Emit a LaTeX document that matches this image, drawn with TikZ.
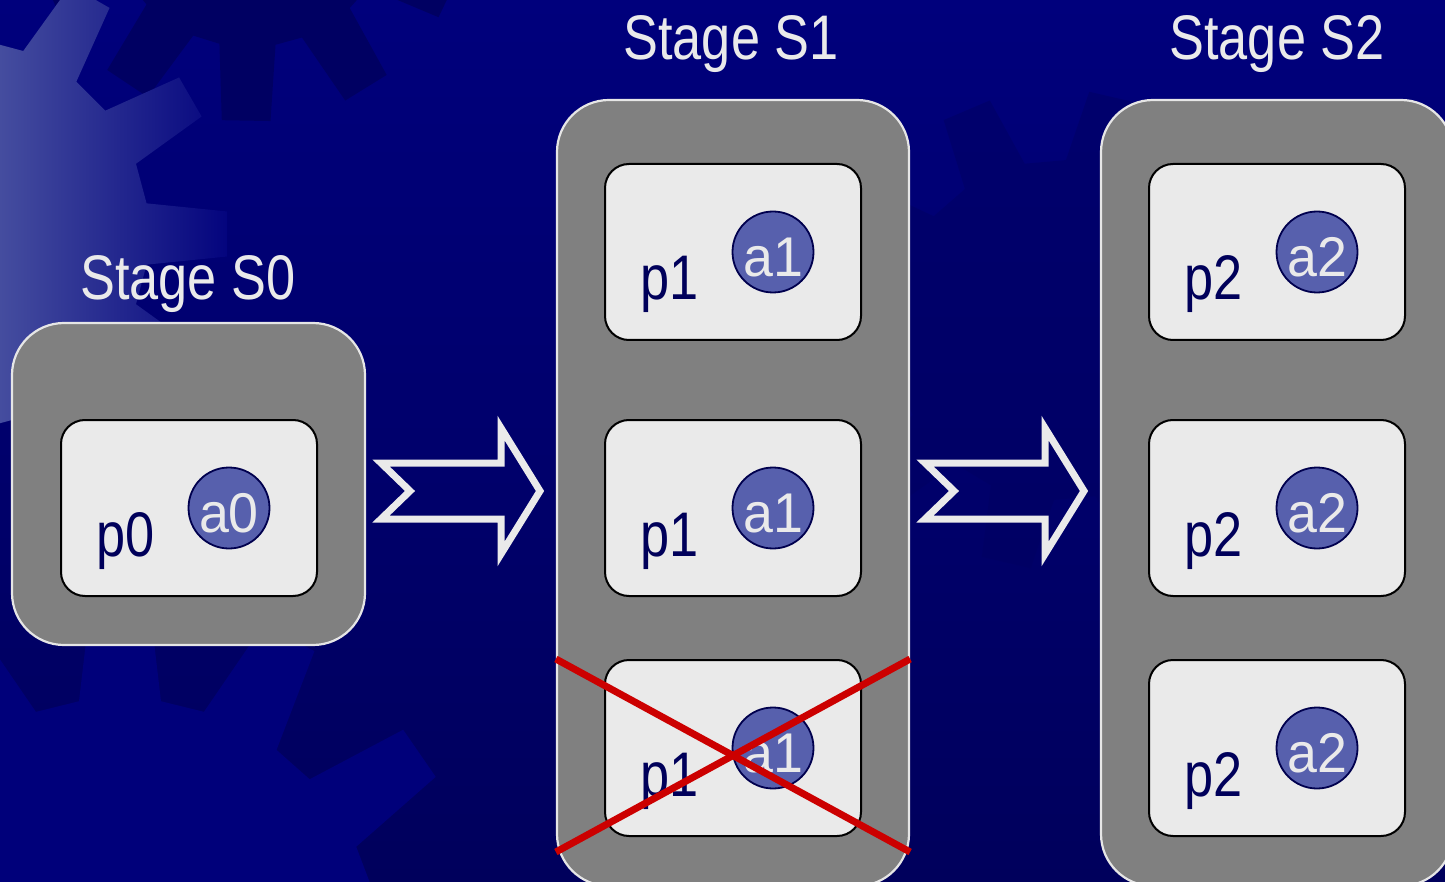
\documentclass[tikz,border=0pt]{standalone}
\usepackage{fontspec}
\setmainfont{Liberation Sans}
\usetikzlibrary{calc}

\definecolor{bgtop}{HTML}{00007C}
\definecolor{bgbot}{HTML}{00005C}
\definecolor{geardark}{HTML}{000062}
\definecolor{gearnavy}{HTML}{00007A}
\definecolor{gearlight}{HTML}{454D9F}
\definecolor{stagegray}{HTML}{808080}
\definecolor{stageedge}{HTML}{E6E6E6}
\definecolor{procfill}{HTML}{EAEAEA}
\definecolor{agentfill}{HTML}{5760AD}
\definecolor{agentedge}{HTML}{00004E}
\definecolor{labelnavy}{HTML}{00005A}
\definecolor{crossred}{HTML}{CC0000}
\definecolor{titletext}{HTML}{EAEAEA}

% outline of a toothed wheel around the origin:
% #1 root radius, #2 tip radius, #3 last tooth index, #4 pitch angle,
% #5 angle of the first tooth, #6 half angle at the root, #7 half angle at the tip
\newcommand\gearpath[7]{%
  ({#5-#6}:#1) \foreach \k in {0,...,#3}{
    -- ({#5+\k*#4-#6}:#1) -- ({#5+\k*#4-#7}:#2)
    -- ({#5+\k*#4+#7}:#2) -- ({#5+\k*#4+#6}:#1)} -- cycle}

% one process box with its agent: #1 name, #2 #3 centre, #4 process, #5 agent
\newcommand\procunit[5]{%
  \node[procbox] (#1) at (#2,#3) {};
  \node[agent] (#1a) at ($(#1.center)+(40,0)$) {};
  \node[plabel] (#1p) at ($(#1.center)+(-93,48)$) {#4};
  \node[alabel] (#1t) at ($(#1a.center)+(0,24.5)$) {#5};
}

\tikzset{
  stagebox/.style={draw=stageedge, line width=2.2pt, fill=stagegray,
    rounded corners=52pt, inner sep=0pt},
  procbox/.style={draw=black, line width=2pt, fill=procfill,
    rounded corners=24pt, minimum width=256pt, minimum height=176pt, inner sep=0pt},
  agent/.style={circle, draw=agentedge, line width=1.8pt, fill=agentfill,
    minimum size=81pt, inner sep=0pt},
  title/.style={text=titletext, font=\fontsize{63}{70}\selectfont,
    xscale=0.83, anchor=base, inner sep=0pt},
  plabel/.style={text=labelnavy, font=\fontsize{63}{70}\selectfont,
    xscale=0.83, anchor=base west, inner sep=0pt},
  alabel/.style={text=titletext, font=\fontsize{56}{60}\selectfont,
    xscale=0.96, anchor=base, inner sep=0pt},
  arrowline/.style={draw=procfill, line width=7pt, line join=miter, miter limit=10},
  crossline/.style={draw=crossred, line width=7pt},
  pics/blockarrow/.style={code={
    \draw[arrowline] (-80,-28) -- (40,-28) -- (40,-63) -- (79,0)
      -- (40,63) -- (40,28) -- (-80,28) -- (-51,0) -- cycle;}}
}

\begin{document}
\begin{tikzpicture}[x=1pt,y=-1pt]
\useasboundingbox (0,0) rectangle (1445,882);

% ---- backdrop with cog wheels ----
\begin{scope}
\clip (0,0) rectangle (1445,882);
\shade[top color=bgtop, bottom color=bgbot] (0,0) rectangle (1445,882);
\fill[gearnavy, shift={(120,960)}] \gearpath{262}{365}{12}{27.69}{-90}{9}{4.5};
\fill[geardark, shift={(250,-100)}] \gearpath{147}{222}{10}{32.73}{91}{11}{6.3};
\fill[geardark, opacity=0.5, shift={(1060,330)}] \gearpath{170}{240}{9}{36}{175}{11}{6};
\begin{scope}
  \clip[shift={(-47,234)}] \gearpath{196}{275}{11}{30}{0}{9}{4.7};
  \shade[left color=gearlight, right color=bgtop] (0,0) rectangle (240,600);
\end{scope}
\end{scope}

% ---- stages ----
\node[stagebox, minimum width=353pt, minimum height=322pt] (s0) at (188.5,484) {};
\node[stagebox, minimum width=352pt, minimum height=786pt] (s1) at (733,493) {};
\node[stagebox, minimum width=352pt, minimum height=786pt] (s2) at (1277,493) {};

\node[title] (t0) at (188,300) {Stage S0};
\node[title] (t1) at (731,60) {Stage S1};
\node[title] (t2) at (1277,60) {Stage S2};

% ---- processes and agents ----
\procunit{p0}{189}{508}{p0}{a0}
\procunit{p1a}{733}{252}{p1}{a1}
\procunit{p1b}{733}{508}{p1}{a1}
\procunit{p1c}{733}{748}{p1}{a1}
\procunit{p2a}{1277}{252}{p2}{a2}
\procunit{p2b}{1277}{508}{p2}{a2}
\procunit{p2c}{1277}{748}{p2}{a2}

% ---- hand-over arrows between stages ----
\coordinate (hop1) at ($(s0.east)!0.5!(s1.west)+(0,2.5)$);
\coordinate (hop2) at ($(s1.east)!0.5!(s2.west)+(0,-2)$);
\pic at (hop1) {blockarrow};
\pic at (hop2) {blockarrow};

% ---- failed process struck out ----
\coordinate (xtl) at (s1.west |- p1c.north);
\coordinate (xtr) at (s1.east |- p1c.north);
\coordinate (xbl) at ($(s1.west |- p1c.south)+(0,15)$);
\coordinate (xbr) at ($(s1.east |- p1c.south)+(0,15)$);
\draw[crossline] (xtl) -- (xbr);
\draw[crossline] (xbl) -- (xtr);
\end{tikzpicture}
\end{document}
